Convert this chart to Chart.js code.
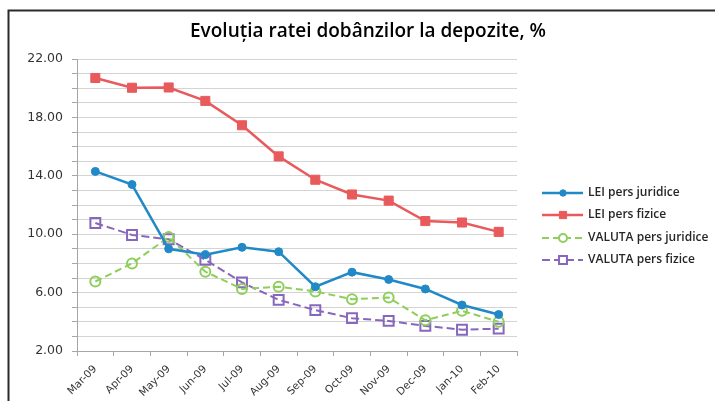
<!DOCTYPE html>
<html><head><meta charset="utf-8">
<script src="https://cdn.jsdelivr.net/npm/chart.js@4/dist/chart.umd.min.js"></script>
<style>html,body{margin:0;padding:0;background:#fff;}#wrap{width:715px;height:401px;position:relative;}</style>
</head><body><div id="wrap"><canvas id="c" width="715" height="401"></canvas></div>
<script>
const categories = ["Mar-09","Apr-09","May-09","Jun-09","Jul-09","Aug-09","Sep-09","Oct-09","Nov-09","Dec-09","Jan-10","Feb-10"];
const leiJuridice = [14.3, 13.4, 9.0, 8.6, 9.1, 8.8, 6.4, 7.4, 6.9, 6.25, 5.15, 4.5];
const leiFizice = [20.7, 20.03, 20.05, 19.13, 17.46, 15.33, 13.73, 12.72, 12.3, 10.9, 10.8, 10.16];
const valutaJuridice = [6.76, 8.0, 9.8, 7.43, 6.25, 6.4, 6.08, 5.55, 5.66, 4.1, 4.75, 4.0];
const valutaFizice = [10.77, 9.95, 9.65, 8.25, 6.7, 5.5, 4.8, 4.25, 4.06, 3.72, 3.46, 3.53];
const seriesNames = ["LEI pers juridice","LEI pers fizice","VALUTA pers juridice","VALUTA pers fizice"];
const titleText = "Evoluția ratei dobânzilor la depozite, %";
const yMin = 2, yMax = 22, yLabelStep = 4;

const FONT = "'Open Sans', 'Liberation Sans', sans-serif";
const TICKFONT = "'DejaVu Sans', sans-serif";

const frame = {
  id: 'frame',
  beforeDraw(chart) {
    const ctx = chart.ctx;
    ctx.save();
    ctx.fillStyle = '#fff';
    ctx.fillRect(0, 0, chart.width, chart.height);
    ctx.strokeStyle = '#2b2b2b';
    ctx.lineWidth = 2;
    ctx.strokeRect(8.5, 10.5, chart.width + 10, chart.height + 10);
    ctx.fillStyle = '#000';
    ctx.font = "600 19px " + FONT;
    ctx.textAlign = 'center';
    ctx.textBaseline = 'middle';
    ctx.fillText(titleText, 368, 32);
    ctx.restore();
  }
};

const customLegend = {
  id: 'customLegend',
  afterDraw(chart) {
    const ctx = chart.ctx;
    const x0 = 542, x1 = 583, xm = 563, xt = 588;
    const ys = [193, 215, 238, 260];
    ctx.save();
    chart.data.datasets.forEach((ds, i) => {
      const y = ys[i];
      ctx.beginPath();
      ctx.setLineDash(ds.borderDash || []);
      ctx.strokeStyle = ds.borderColor;
      ctx.lineWidth = ds.borderWidth;
      ctx.moveTo(x0, y); ctx.lineTo(x1, y);
      ctx.stroke();
      ctx.setLineDash([]);
      const opts = {pointStyle: ds.pointStyle, radius: ds.pointRadius * 0.8, borderWidth: ds.pointBorderWidth, rotation: 0};
      ctx.fillStyle = ds.pointBackgroundColor === 'rgba(255,255,255,0)' ? '#fff' : ds.pointBackgroundColor;
      ctx.strokeStyle = ds.pointBorderColor;
      ctx.lineWidth = ds.pointBorderWidth;
      Chart.helpers.drawPoint(ctx, opts, xm, y);
      ctx.fillStyle = '#262626';
      ctx.font = "600 12px " + FONT;
      ctx.textBaseline = 'middle';
      ctx.textAlign = 'left';
      ctx.fillText(seriesNames[i], xt, y);
    });
    ctx.restore();
  }
};

new Chart(document.getElementById('c'), {
  type: 'line',
  data: {
    labels: categories,
    datasets: [
      {label: seriesNames[0], data: leiJuridice, borderColor: '#2189c7', backgroundColor: '#2189c7', borderWidth: 2.5,
       pointStyle: 'circle', pointRadius: 4, pointBackgroundColor: '#2189c7', pointBorderColor: '#2189c7', pointBorderWidth: 1},
      {label: seriesNames[1], data: leiFizice, borderColor: '#e85a5c', backgroundColor: '#e85a5c', borderWidth: 2.5,
       pointStyle: 'rect', pointRadius: 6.4, pointBackgroundColor: '#e85a5c', pointBorderColor: '#e85a5c', pointBorderWidth: 1},
      {label: seriesNames[2], data: valutaJuridice, borderColor: '#8fce5c', backgroundColor: '#ffffff', borderWidth: 2, borderDash: [7, 4],
       pointStyle: 'circle', pointRadius: 5, pointBackgroundColor: 'rgba(255,255,255,0)', pointBorderColor: '#8fce5c', pointBorderWidth: 2},
      {label: seriesNames[3], data: valutaFizice, borderColor: '#8767bd', backgroundColor: '#ffffff', borderWidth: 2, borderDash: [8, 4],
       pointStyle: 'rect', pointRadius: 7, pointBackgroundColor: 'rgba(255,255,255,0)', pointBorderColor: '#8767bd', pointBorderWidth: 2}
    ]
  },
  options: {
    responsive: false,
    animation: false,
    layout: {padding: {left: 0, right: 198, top: 59, bottom: 0}},
    plugins: {
      legend: {display: false},
      tooltip: {enabled: false},
      title: {display: false}
    },
    scales: {
      x: {
        offset: true,
        grid: {display: true, drawOnChartArea: false, drawTicks: true, tickLength: 5, offset: true, color: '#a6a6a6'},
        border: {color: '#a6a6a6'},
        ticks: {maxRotation: 45, minRotation: 45, autoSkip: false, color: '#333', font: {family: TICKFONT, size: 10.5}, padding: 7},
        afterFit(s) { s.height = 50; }
      },
      y: {
        min: yMin, max: yMax,
        grid: {color: '#d4d4d4', tickLength: 5, tickColor: '#a6a6a6'},
        border: {color: '#a6a6a6'},
        ticks: {stepSize: 1, autoSkip: false, color: '#333', font: {family: TICKFONT, size: 12.5}, padding: 9,
          callback: (v) => ((v - yMin) % yLabelStep === 0 ? v.toFixed(2) : '')},
        afterFit(s) { s.width = 77; }
      }
    }
  },
  plugins: [frame, customLegend]
});
</script></body></html>
